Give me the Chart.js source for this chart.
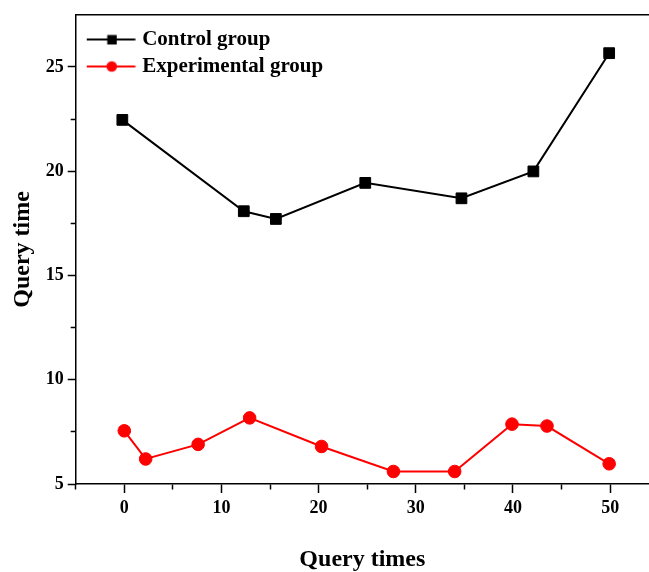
<!DOCTYPE html>
<html>
<head>
<meta charset="utf-8">
<script src="https://cdn.jsdelivr.net/npm/chart.js@4.4.0/dist/chart.umd.min.js"></script>
<style>
    body { margin: 0; background: #fff; }
</style>
</head>
<body>
<canvas id="queryChart" width="649" height="572"></canvas>
<script>
const controlX = [-0.2, 12.3, 15.6, 24.8, 34.7, 42.1, 49.9];
const controlY = [22.46, 18.08, 17.71, 19.44, 18.70, 19.99, 25.66];
const experimentalX = [0, 2.2, 7.6, 12.9, 20.3, 27.7, 34.0, 39.9, 43.5, 49.9];
const experimentalY = [7.55, 6.2, 6.9, 8.17, 6.8, 5.6, 5.6, 7.87, 7.78, 5.97];
const seriesLabels = ['Control group', 'Experimental group'];
const xTickLabels = [0, 10, 20, 30, 40, 50];
const yTickLabels = [5, 10, 15, 20, 25];

const serif = '"Liberation Serif", "Times New Roman", serif';

const toPoints = function (xs, ys) {
    return xs.map((x, i) => ({x: x, y: ys[i]}));
};

// legend sample: a short line with the marker on it
const legendIcon = function (color, shape) {
    const c = document.createElement('canvas');
    c.width = 58;
    c.height = 20;
    const g = c.getContext('2d');
    g.strokeStyle = color;
    g.fillStyle = color;
    g.lineWidth = 2;
    g.beginPath();
    g.moveTo(9, 10);
    g.lineTo(57.5, 10);
    g.stroke();
    if (shape === 'rect') {
        g.fillRect(29.5, 5.5, 9.5, 9.5);
    } else {
        g.beginPath();
        g.arc(34, 10, 5.3, 0, Math.PI * 2);
        g.fill();
    }
    return c;
};

const legendIcons = [legendIcon('#000000', 'rect'), legendIcon('#ff0000', 'circle')];

// top frame line
const frameTop = {
    id: 'frameTop',
    afterDraw(chart) {
        const {ctx, chartArea} = chart;
        ctx.save();
        ctx.strokeStyle = '#000';
        ctx.lineWidth = 1.5;
        ctx.beginPath();
        ctx.moveTo(chartArea.left, chartArea.top);
        ctx.lineTo(chartArea.right, chartArea.top);
        ctx.stroke();
        ctx.restore();
    }
};

new Chart(document.getElementById('queryChart'), {
    type: 'line',
    data: {
        datasets: [{
            label: seriesLabels[0],
            data: toPoints(controlX, controlY),
            borderColor: '#000000',
            backgroundColor: '#000000',
            borderWidth: 2,
            pointStyle: 'rect',
            pointRadius: 7.6,
            pointBorderWidth: 1,
            tension: 0,
        }, {
            label: seriesLabels[1],
            data: toPoints(experimentalX, experimentalY),
            borderColor: '#ff0000',
            backgroundColor: '#ff0000',
            borderWidth: 2,
            pointStyle: 'circle',
            pointRadius: 6.3,
            pointBorderWidth: 1,
            tension: 0,
        }],
    },
    options: {
        responsive: false,
        animation: false,
        layout: {
            autoPadding: false,
            padding: {top: 14, right: 0, bottom: 0, left: 0}
        },
        plugins: {
            tooltip: {enabled: false},
            legend: {
                position: 'chartArea',
                align: 'start',
                title: {
                    display: true,
                    text: ' ',
                    font: {size: 2, lineHeight: 1},
                    padding: {top: 21, bottom: 0}
                },
                labels: {
                    usePointStyle: true,
                    pointStyleWidth: 50,
                    padding: 6,
                    color: '#000',
                    font: {family: serif, size: 21, weight: 'bold'},
                    generateLabels: (chart) => chart.data.datasets.map((ds, i) => ({
                        text: ds.label,
                        fillStyle: ds.borderColor,
                        strokeStyle: ds.borderColor,
                        fontColor: '#000',
                        lineWidth: 0,
                        pointStyle: legendIcons[i],
                        hidden: false,
                        datasetIndex: i,
                    })),
                }
            }
        },
        scales: {
            x: {
                type: 'linear',
                min: -5,
                max: 54,
                afterFit: (scale) => {
                    scale.height = 88;
                    scale.paddingLeft = 0;
                    scale.paddingRight = 0;
                },
                border: {display: true, color: '#000', width: 1.5},
                grid: {
                    drawOnChartArea: false,
                    drawTicks: true,
                    tickLength: 9,
                    tickWidth: 1.5,
                    tickColor: (ctx) => (ctx.tick && ctx.tick.value % 5 === 0) ? '#000' : 'rgba(0,0,0,0)',
                    tickBorderDash: (ctx) => (ctx.tick && ctx.tick.value % 10 === 0) ? [] : [5, 100],
                },
                ticks: {
                    stepSize: 5,
                    padding: 5,
                    maxRotation: 0,
                    autoSkip: false,
                    color: '#000',
                    font: {family: serif, size: 18, weight: 'bold'},
                    callback: (value) => xTickLabels.includes(value) ? value : '',
                },
                title: {
                    display: true,
                    text: 'Query times',
                    color: '#000',
                    font: {family: serif, size: 24, weight: 'bold', lineHeight: 1},
                    padding: {top: 0, bottom: 0}
                }
            },
            y: {
                min: 5,
                max: 27.5,
                afterFit: (scale) => { scale.width = 75.7; },
                border: {display: true, color: '#000', width: 1.5},
                grid: {
                    drawOnChartArea: false,
                    drawTicks: true,
                    tickLength: 8,
                    tickWidth: 1.5,
                    tickColor: (ctx) => (ctx.tick && ctx.tick.value < 27.5) ? '#000' : 'rgba(0,0,0,0)',
                    tickBorderDash: (ctx) => (ctx.tick && ctx.tick.value % 5 === 0) ? [] : [0, 3, 5, 100],
                },
                ticks: {
                    stepSize: 2.5,
                    padding: 4,
                    autoSkip: false,
                    color: '#000',
                    font: {family: serif, size: 18, weight: 'bold'},
                    callback: (value) => yTickLabels.includes(value) ? value : '',
                },
                title: {
                    display: true,
                    text: 'Query time',
                    color: '#000',
                    font: {family: serif, size: 24, weight: 'bold', lineHeight: 1},
                    padding: {top: 11, bottom: 0}
                }
            }
        }
    },
    plugins: [frameTop]
});
</script>
</body>
</html>
